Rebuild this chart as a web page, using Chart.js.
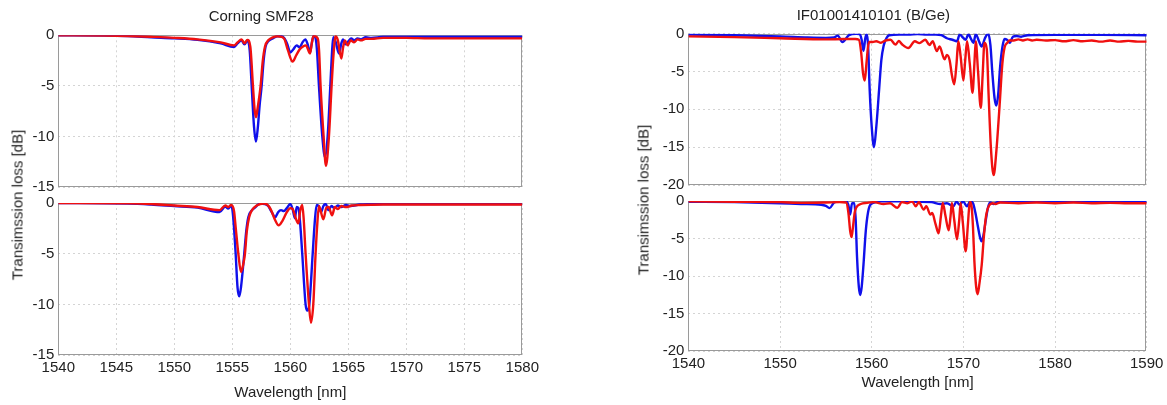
<!DOCTYPE html>
<html><head><meta charset="utf-8">
<script src="https://cdn.jsdelivr.net/npm/chart.js@4.4.1/dist/chart.umd.min.js"></script>
<style>
html,body{margin:0;padding:0;background:#fff;}
#wrap{position:relative;width:1167px;height:405px;overflow:hidden;background:#fff;font-family:"Liberation Sans",Arial,sans-serif;}
#wrap canvas{position:absolute;}
.ytitle{position:absolute;transform:translate(-50%,-50%) rotate(-90deg);white-space:nowrap;font-size:15px;color:#222;}
</style></head>
<body><div id="wrap">
<canvas id="lt" width="560" height="200" style="left:0px;top:0px"></canvas>
<canvas id="lb" width="560" height="215" style="left:0px;top:190px"></canvas>
<canvas id="rt" width="600" height="200" style="left:600px;top:0px"></canvas>
<canvas id="rb" width="600" height="217" style="left:600px;top:188px"></canvas>
<div class="ytitle" style="left:17px;top:205px">Transimssion loss [dB]</div>
<div class="ytitle" style="left:643px;top:200px">Transimssion loss [dB]</div>
</div>
<script>
// ---- Titles / labels ----
const leftTitle = "Corning SMF28";
const rightTitle = "IF01001410101 (B/Ge)";
const xLabel = "Wavelength [nm]";
const leftXTicks = [1540, 1545, 1550, 1555, 1560, 1565, 1570, 1575, 1580];
const rightXTicks = [1540, 1550, 1560, 1570, 1580, 1590];
const leftYTicks = [-15, -10, -5, 0];
const rightYTicks = [-20, -15, -10, -5, 0];

// ---- Corning SMF28, upper panel: [wavelength nm, loss dB] ----
const smfUpperBlue = [[1540,0],[1544,-0.02],[1546,-0.08],[1548,-0.2],[1550,-0.3],[1552,-0.45],[1554,-0.8],[1555.15,-1.15],[1555.45,-0.8],[1555.8,-0.5],[1556.05,-0.9],[1556.3,-0.5],[1556.5,-1.5],[1556.67,-5.0],[1556.87,-9.0],[1557.04,-10.5],[1557.21,-9.0],[1557.35,-7.0],[1557.53,-5.0],[1557.7,-2.5],[1557.87,-1.1],[1558.1,-0.6],[1558.5,-0.3],[1558.9,-0.1],[1559.25,-0.1],[1559.5,-0.3],[1559.75,-0.9],[1560.0,-1.7],[1560.25,-1.4],[1560.55,-1.0],[1560.8,-1.2],[1561.05,-0.7],[1561.3,-0.4],[1561.5,-0.9],[1561.7,-1.7],[1561.85,-0.8],[1562.0,-0.1],[1562.18,-0.3],[1562.3,-1.5],[1562.47,-5.0],[1562.76,-10.0],[1562.99,-12.05],[1563.22,-10.0],[1563.45,-5.0],[1563.58,-2.0],[1563.7,-0.2],[1563.9,-0.6],[1564.2,-1.8],[1564.4,-0.8],[1564.55,-0.4],[1564.75,-0.9],[1565.0,-0.6],[1565.25,-0.3],[1565.5,-0.5],[1565.8,-0.3],[1566.1,-0.4],[1566.5,-0.2],[1567,-0.25],[1568,-0.15],[1570,-0.15],[1572,-0.15],[1575,-0.15],[1578,-0.15],[1580,-0.15]];
const smfUpperRed = [[1540,0],[1544,-0.02],[1546,-0.07],[1548,-0.15],[1550,-0.25],[1552,-0.4],[1554,-0.7],[1555.15,-1.0],[1555.45,-0.7],[1555.8,-0.4],[1556.05,-0.8],[1556.3,-0.45],[1556.55,-1.1],[1556.78,-5.0],[1556.92,-7.3],[1557.04,-8.1],[1557.17,-7.3],[1557.44,-5.0],[1557.62,-2.6],[1557.82,-1.1],[1558.1,-0.5],[1558.5,-0.2],[1558.9,-0.1],[1559.25,-0.15],[1559.5,-0.4],[1559.8,-1.5],[1560.2,-2.6],[1560.5,-2.0],[1560.8,-1.4],[1561.1,-1.1],[1561.35,-1.0],[1561.7,-1.8],[1561.85,-0.8],[1562.0,-0.05],[1562.36,-0.3],[1562.48,-1.5],[1562.61,-5.0],[1562.87,-10.0],[1563.07,-12.9],[1563.33,-10.0],[1563.56,-5.0],[1563.72,-2.0],[1563.9,-0.1],[1564.1,-0.5],[1564.4,-2.3],[1564.55,-1.2],[1564.7,-0.5],[1564.95,-1.0],[1565.2,-0.5],[1565.5,-0.7],[1565.8,-0.4],[1566.1,-0.5],[1566.5,-0.35],[1567,-0.35],[1568,-0.25],[1570,-0.25],[1572,-0.3],[1575,-0.3],[1578,-0.3],[1580,-0.3]];

// ---- Corning SMF28, lower panel ----
const smfLowerBlue = [[1540,0],[1546,-0.05],[1548,-0.15],[1550,-0.3],[1552,-0.45],[1553.9,-0.9],[1554.4,-0.35],[1554.65,-0.55],[1554.9,-0.25],[1555.0,-0.6],[1555.12,-2.0],[1555.29,-5.0],[1555.45,-8.3],[1555.6,-9.2],[1555.75,-8.3],[1556.03,-5.0],[1556.2,-2.8],[1556.38,-1.4],[1556.7,-0.7],[1557.0,-0.4],[1557.3,-0.1],[1557.5,-0.05],[1557.8,-0.1],[1558.1,-0.3],[1558.4,-0.9],[1558.7,-1.4],[1558.95,-0.9],[1559.2,-0.7],[1559.45,-0.8],[1559.7,-0.5],[1560.0,-0.1],[1560.2,-0.6],[1560.4,-1.5],[1560.55,-0.4],[1560.7,-0.5],[1560.85,-2.0],[1561.03,-5.0],[1561.32,-10.0],[1561.47,-10.6],[1561.64,-10.0],[1561.93,-5.0],[1562.1,-2.0],[1562.27,-0.2],[1562.45,-0.3],[1562.65,-0.9],[1562.85,-0.3],[1563.05,-0.1],[1563.3,-0.7],[1563.55,-0.3],[1563.8,-0.5],[1564.1,-0.25],[1564.4,-0.4],[1564.8,-0.2],[1565.2,-0.3],[1566,-0.15],[1568,-0.1],[1572,-0.1],[1576,-0.1],[1580,-0.1]];
const smfLowerRed = [[1540,0],[1546,-0.03],[1548,-0.1],[1550,-0.25],[1552,-0.4],[1553.9,-0.7],[1554.4,-0.25],[1554.65,-0.4],[1554.9,-0.2],[1555.15,-0.8],[1555.3,-2.5],[1555.52,-5.0],[1555.75,-6.8],[1555.95,-6.0],[1556.09,-5.0],[1556.25,-2.8],[1556.45,-1.4],[1556.7,-0.7],[1557.1,-0.25],[1557.4,-0.1],[1557.7,-0.05],[1558.0,-0.15],[1558.3,-0.6],[1558.7,-1.7],[1559.0,-2.2],[1559.3,-1.8],[1559.7,-0.9],[1560.0,-0.5],[1560.2,-0.6],[1560.5,-1.6],[1560.7,-2.0],[1560.85,-0.8],[1561.03,-0.2],[1561.15,-1.5],[1561.32,-5.0],[1561.61,-10.0],[1561.78,-11.8],[1561.98,-10.0],[1562.18,-5.0],[1562.33,-2.0],[1562.47,-0.3],[1562.85,-1.6],[1563.1,-0.5],[1563.3,-0.4],[1563.6,-1.2],[1563.85,-0.4],[1564.1,-0.6],[1564.4,-0.3],[1564.8,-0.4],[1565.3,-0.25],[1566,-0.2],[1568,-0.15],[1572,-0.15],[1576,-0.15],[1580,-0.15]];

// ---- IF01001410101 (B/Ge), upper panel ----
const bgeUpperBlue = [[1540,-0.1],[1545,-0.2],[1550,-0.35],[1553,-0.5],[1555,-0.55],[1555.9,-0.5],[1556.3,-0.25],[1556.8,-1.1],[1557.5,-0.2],[1558.3,0],[1558.7,-0.05],[1558.9,-0.8],[1559.1,-2.25],[1559.3,-0.6],[1559.45,-0.05],[1559.6,-1.5],[1559.78,-7.5],[1560.0,-12.3],[1560.25,-15.0],[1560.5,-12.3],[1560.8,-7.5],[1561.05,-3.5],[1561.3,-1.6],[1561.6,-0.6],[1561.9,-0.2],[1563,-0.1],[1564,-0.1],[1565,-0.05],[1566,-0.1],[1567,-0.1],[1567.6,-0.2],[1568.2,-0.6],[1568.8,-0.8],[1569.3,-1.0],[1569.6,-0.1],[1569.95,-0.5],[1570.25,-0.8],[1570.55,-0.05],[1570.8,-0.6],[1571.1,-1.2],[1571.35,-0.05],[1571.7,-1.0],[1572.0,-1.7],[1572.35,-0.6],[1572.7,0],[1572.95,-1.5],[1573.15,-5.0],[1573.4,-8.5],[1573.6,-9.5],[1573.8,-8.0],[1574.0,-4.5],[1574.25,-1.8],[1574.5,-0.7],[1574.75,-0.8],[1575.05,-1.2],[1575.4,-0.4],[1575.8,-0.3],[1576.3,-0.4],[1577,-0.2],[1580,-0.15],[1585,-0.15],[1590,-0.2]];
const bgeUpperRed = [[1540,-0.35],[1545,-0.45],[1550,-0.6],[1555,-0.75],[1557,-0.7],[1558.2,-0.7],[1558.6,-0.8],[1558.85,-2.5],[1559.05,-5.2],[1559.24,-6.2],[1559.42,-4.0],[1559.6,-1.7],[1559.75,-1.1],[1560.1,-1.1],[1560.5,-1.0],[1561.0,-1.2],[1561.5,-0.9],[1562.05,-0.8],[1562.6,-1.45],[1562.95,-0.95],[1563.3,-1.4],[1564.0,-1.9],[1564.7,-1.0],[1565.2,-1.25],[1565.85,-0.8],[1566.3,-1.5],[1566.65,-1.0],[1567.1,-2.3],[1567.4,-1.7],[1567.95,-3.4],[1568.2,-2.8],[1568.5,-3.5],[1568.75,-5.5],[1569.0,-6.7],[1569.25,-4.0],[1569.45,-1.0],[1569.7,-3.0],[1570.0,-6.2],[1570.2,-3.5],[1570.4,-1.0],[1570.7,-4.0],[1571.0,-7.8],[1571.2,-4.0],[1571.35,-1.0],[1571.6,-5.0],[1571.9,-9.8],[1572.1,-5.5],[1572.3,-1.2],[1572.55,-2.0],[1572.75,-8.0],[1573.0,-15.0],[1573.3,-18.7],[1573.6,-15.5],[1573.95,-9.5],[1574.25,-4.0],[1574.5,-1.8],[1574.8,-1.2],[1575.0,-0.9],[1575.5,-0.9],[1576,-0.75],[1576.5,-0.9],[1577,-0.75],[1577.5,-0.9],[1578,-0.8],[1579,-0.9],[1580,-0.85],[1581,-1.0],[1582,-0.85],[1583,-1.0],[1584,-0.9],[1585,-1.05],[1586,-0.9],[1587,-1.05],[1588,-0.95],[1589,-1.05],[1590,-1.05]];

// ---- IF01001410101 (B/Ge), lower panel ----
const bgeLowerBlue = [[1540,-0.1],[1545,-0.15],[1550,-0.3],[1552.3,-0.4],[1554.5,-0.5],[1555.0,-0.65],[1555.4,-0.95],[1555.9,-0.2],[1556.5,-0.05],[1557.2,-0.05],[1557.45,-0.5],[1557.65,-1.8],[1557.85,-0.3],[1558.1,-0.3],[1558.25,-2.5],[1558.4,-7.5],[1558.6,-11.5],[1558.75,-12.5],[1558.9,-11.5],[1559.1,-8.5],[1559.35,-4.0],[1559.6,-1.5],[1559.85,-0.5],[1560.5,-0.15],[1561,-0.05],[1563,-0.05],[1565,-0.1],[1566.5,-0.15],[1567.5,-0.4],[1568.2,-0.3],[1568.9,-0.7],[1569.25,-0.1],[1569.6,-0.5],[1569.95,-0.05],[1570.4,-0.7],[1570.75,-0.05],[1571.05,-0.3],[1571.3,-1.5],[1571.6,-3.5],[1571.85,-5.0],[1572.0,-5.35],[1572.2,-4.5],[1572.45,-2.5],[1572.7,-0.8],[1572.95,-0.2],[1573.3,-0.4],[1573.7,-0.15],[1575,-0.1],[1580,-0.1],[1585,-0.1],[1590,-0.15]];
const bgeLowerRed = [[1540,-0.05],[1545,-0.1],[1550,-0.15],[1552.3,-0.25],[1555,-0.2],[1556.5,-0.15],[1557.2,-0.2],[1557.45,-1.5],[1557.65,-4.0],[1557.8,-4.8],[1557.95,-3.5],[1558.15,-1.5],[1558.3,-0.9],[1558.8,-0.4],[1559.5,-0.25],[1560.25,-0.15],[1561.3,-0.4],[1562.0,-0.3],[1562.8,-0.9],[1563.3,-0.15],[1563.9,-0.3],[1564.4,-0.05],[1564.8,-0.7],[1565.15,-0.15],[1565.67,-1.15],[1565.95,-0.7],[1566.4,-1.8],[1566.6,-1.6],[1566.95,-3.0],[1567.3,-4.3],[1567.55,-2.0],[1567.75,-0.25],[1568.05,-2.0],[1568.4,-3.9],[1568.6,-2.0],[1568.75,-0.25],[1569.0,-2.5],[1569.3,-5.1],[1569.55,-2.5],[1569.7,-0.25],[1569.95,-3.0],[1570.25,-6.7],[1570.5,-3.0],[1570.7,-0.1],[1570.9,-0.8],[1571.05,-3.5],[1571.2,-8.0],[1571.4,-11.5],[1571.55,-12.4],[1571.75,-11.0],[1572.0,-8.5],[1572.25,-4.5],[1572.5,-1.8],[1572.8,-0.6],[1573.2,-0.3],[1573.5,-0.4],[1574,-0.2],[1576,-0.3],[1578,-0.2],[1580,-0.3],[1582,-0.2],[1584,-0.3],[1586,-0.25],[1588,-0.3],[1590,-0.3]];

// ---- styling ----
const FONT = "'Liberation Sans', Arial, sans-serif";
const TEXT = '#222';
const GRID = '#d4d4d4';
const FRAME = '#9a9a9a';
const RED = 'rgb(240,16,16)';
const BLUE = 'rgb(16,16,235)';

const framePlugin = {
  id: 'frame',
  beforeDatasetsDraw(chart) {
    const a = chart.chartArea, c = chart.ctx;
    c.save();
    c.strokeStyle = FRAME;
    c.lineWidth = 1;
    c.strokeRect(Math.round(a.left) + 0.5, Math.round(a.top) + 0.5,
                 Math.round(a.right - a.left) - 1, Math.round(a.bottom - a.top) - 1);
    c.restore();
  }
};

function tickSetter(values) {
  return function(scale) { scale.ticks = values.map(v => ({ value: v })); };
}

function makePanel(id, p) {
  const toPts = s => s.map(d => ({ x: d[0], y: d[1] }));
  const lineDs = (s, col) => ({
    data: toPts(s), borderColor: col, borderWidth: 2.4, pointRadius: 0,
    fill: false, cubicInterpolationMode: 'monotone'
  });
  const font = { family: FONT, size: 15 };
  return new Chart(document.getElementById(id), {
    type: 'line',
    data: { datasets: [lineDs(p.red, RED), lineDs(p.blue, BLUE)] },
    options: {
      responsive: false, animation: false, devicePixelRatio: 1,
      layout: { padding: { top: p.padTop, right: p.padRight, left: 0, bottom: 0 } },
      plugins: {
        legend: { display: false }, tooltip: { enabled: false },
        title: p.title ? {
          display: true, text: p.title, color: TEXT,
          font: { family: FONT, size: 15, weight: 'normal' },
          padding: { top: p.titleTop, bottom: p.titleBottom }
        } : { display: false }
      },
      scales: {
        x: {
          type: 'linear', min: p.xTicks[0], max: p.xTicks[p.xTicks.length - 1],
          afterBuildTicks: tickSetter(p.xTicks),
          ticks: { display: p.showX, callback: v => String(v), font: font, color: TEXT,
                   padding: 4, maxRotation: 0, autoSkip: false },
          grid: { color: GRID, drawTicks: false },
          border: { display: false, dash: [2, 3] },
          title: { display: p.showX, text: xLabel, color: TEXT, font: font,
                   padding: { top: 0, bottom: p.xTitleBottom } },
          afterFit: s => { s.height = p.xH; }
        },
        y: {
          min: p.yTicks[0], max: 0,
          afterBuildTicks: tickSetter(p.yTicks),
          ticks: { font: font, color: TEXT, padding: 4, callback: v => String(v) },
          grid: { color: GRID, drawTicks: false },
          border: { display: false, dash: [2, 3] },
          afterFit: s => { s.width = p.yW; }
        }
      }
    },
    plugins: [framePlugin]
  });
}

makePanel('lt', { red: smfUpperRed, blue: smfUpperBlue, xTicks: leftXTicks, yTicks: leftYTicks,
  showX: false, title: leftTitle, titleTop: 8, titleBottom: 9.3, padTop: 0, padRight: 37.7,
  yW: 58.3, xH: 10.7, xTitleBottom: 0 });
makePanel('lb', { red: smfLowerRed, blue: smfLowerBlue, xTicks: leftXTicks, yTicks: leftYTicks,
  showX: true, title: null, padTop: 12.3, padRight: 37.7,
  yW: 58.3, xH: 49.7, xTitleBottom: 3 });
makePanel('rt', { red: bgeUpperRed, blue: bgeUpperBlue, xTicks: rightXTicks, yTicks: rightYTicks,
  showX: false, title: rightTitle, titleTop: 7, titleBottom: 8.7, padTop: 0, padRight: 53.3,
  yW: 88.4, xH: 15, xTitleBottom: 0 });
makePanel('rb', { red: bgeLowerRed, blue: bgeLowerBlue, xTicks: rightXTicks, yTicks: rightYTicks,
  showX: true, title: null, padTop: 11.3, padRight: 53.3,
  yW: 88.4, xH: 53.7, xTitleBottom: 13 });
</script>
</body></html>
